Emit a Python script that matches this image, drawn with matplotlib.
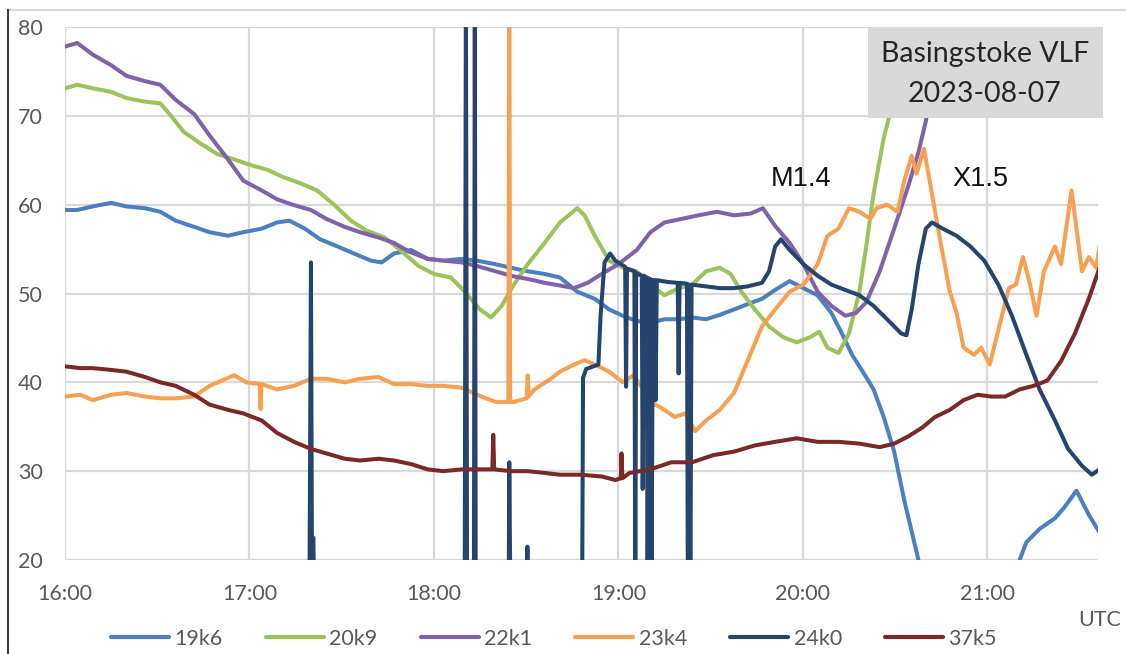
import numpy as np
import matplotlib
matplotlib.use("Agg")
import matplotlib.pyplot as plt
from matplotlib.lines import Line2D
from matplotlib.patches import Rectangle

# ---- data: minutes after 16:00 UTC, signal level ----
series_names = ["19k6", "20k9", "22k1", "23k4", "24k0", "37k5"]
series_colors = ["#4a80bf", "#9cc25a", "#7f62aa", "#f6a052", "#26456e", "#7a2828"]

t_19k6 = [0, 4, 9, 15, 20, 26, 31, 36, 42, 47, 53, 58, 64, 69, 73, 78, 83, 88.6, 94, 99.5, 103, 107,
          112.5, 118, 123, 129, 134, 140, 145, 150.5, 156, 161, 166.6, 172.3, 177, 181.4, 186, 190.4,
          195, 199.5, 204, 208.5, 213, 217.6, 222, 226.7, 231, 235.7, 240.2, 244.8, 249.3, 252.7, 256,
          259.5, 263, 266.3, 269.7, 273, 277.6, 294,
          310.5, 312.7, 317, 322, 325, 329, 333, 336.5]
v_19k6 = [59.4, 59.4, 59.8, 60.2, 59.8, 59.6, 59.2, 58.2, 57.5, 56.9, 56.5, 56.9, 57.3, 58.0, 58.2, 57.3,
          56.1, 55.3, 54.5, 53.7, 53.5, 54.5, 54.9, 53.9, 53.7, 53.9, 53.7, 53.3, 52.9, 52.5, 52.2, 51.8,
          50.2, 49.4, 48.2, 47.5, 46.9, 46.7, 47.1, 47.1, 47.3, 47.1, 47.6, 48.2, 48.8, 49.4, 50.4, 51.4,
          50.6, 49.8, 47.8, 45.5, 43.1, 41.2, 39.2, 36.1, 32.2, 26.7, 20.0, np.nan,
          20.0, 22.0, 23.5, 24.7, 25.9, 27.8, 25.1, 23.1]

t_20k9 = [0, 4, 9, 15, 20, 26, 31, 34, 38.6, 44, 49.5, 55, 60, 66, 71, 76.6, 82, 87.5, 93, 98, 104, 109,
          115, 120, 125.5, 129, 132, 135, 138.6, 142, 146, 150.5, 156, 161, 166.6, 169, 172.3, 177,
          181.4, 186, 190.4, 195, 199.5, 204, 208.5, 213, 216.5, 220, 224.4, 229, 233.5, 238, 242.5,
          245.3, 248, 251.6, 255, 258.4, 260.6, 263, 266.3, 268.6, 272]
v_20k9 = [73.1, 73.5, 73.1, 72.7, 72.0, 71.6, 71.4, 70.2, 68.2, 66.9, 65.7, 65.1, 64.5, 63.9, 63.1, 62.4,
          61.6, 60.0, 58.2, 57.1, 56.3, 54.9, 53.1, 52.2, 51.8, 50.6, 49.4, 48.2, 47.3, 48.6, 51.0, 53.3,
          55.7, 58.0, 59.6, 58.8, 56.5, 53.7, 52.9, 52.5, 51.0, 49.8, 50.6, 51.0, 52.5, 52.9, 52.2, 50.2,
          48.2, 46.3, 45.1, 44.5, 45.1, 45.7, 43.9, 43.3, 45.5, 50.2, 55.3, 61.2, 67.5, 70.6, 82.0]

t_22k1 = [0, 4, 9, 15, 20, 26, 31, 36, 42, 47, 53, 58, 64, 69, 74, 80, 85, 91, 96, 102, 107, 112, 118,
          123, 129, 134, 140, 145, 151, 156, 161, 165.5, 170, 174.6, 180, 186, 190.4, 195, 200.6, 206,
          212, 217.6, 223, 227, 231, 235.7, 240.2, 244.8, 249.3, 253.8, 257.2, 260.6, 265, 269.7, 274.2,
          277.6, 280, 283, 286]
v_22k1 = [77.8, 78.2, 76.9, 75.7, 74.5, 73.9, 73.5, 71.8, 70.2, 67.8, 65.1, 62.7, 61.6, 60.6, 60.0, 59.4,
          58.4, 57.5, 56.9, 56.3, 55.7, 54.7, 53.9, 53.7, 53.5, 53.1, 52.5, 52.0, 51.6, 51.2, 50.9, 50.6,
          51.2, 52.2, 53.3, 54.9, 56.9, 58.0, 58.4, 58.8, 59.2, 58.8, 59.0, 59.6, 57.6, 55.7, 53.3, 50.2,
          48.6, 47.5, 47.8, 49.0, 52.5, 57.3, 62.0, 65.9, 69.4, 75.0, 82.0]

t_23k4 = [0, 5, 9, 15, 20, 26, 31, 36, 42, 47, 55, 59, 63.3, 63.6, 63.9, 69, 74.5, 80, 85, 91, 96, 102,
          107, 112.5, 118, 123, 129, 134, 140, 144.2, 144.5, 144.8, 146, 150.2, 150.5, 150.8, 152.7, 158,
          161, 165.5, 169, 172.3, 177, 181.4, 185, 188, 191.5, 195, 198.3, 201.7, 205, 208.5, 213, 217.6,
          222, 226.7, 231, 235.7, 240.2, 244.8, 248, 251.6, 255, 258.4, 262, 264, 267.4, 270.8, 273,
          275.4, 277, 279.4, 282, 284.4, 287.8, 290, 292.3, 295.7, 298, 300.8, 303.6, 307, 309.3, 311.6,
          313.9, 316, 318.4, 322, 324, 327.4, 330.8, 333, 335.4, 336.5]
v_23k4 = [38.4, 38.6, 38.0, 38.6, 38.8, 38.4, 38.2, 38.2, 38.4, 39.6, 40.8, 40.0, 39.8, 37.0, 39.8, 39.2,
          39.6, 40.4, 40.4, 40.0, 40.4, 40.6, 39.8, 39.8, 39.6, 39.6, 39.4, 38.6, 37.8, 37.8, 85.0, 37.8,
          37.8, 38.2, 40.8, 38.4, 39.2, 40.4, 41.2, 42.0, 42.5, 42.0, 41.2, 40.0, 40.8, 39.2, 37.6, 36.9,
          36.1, 36.5, 34.5, 35.7, 36.9, 38.8, 42.4, 46.3, 48.2, 50.2, 51.0, 53.3, 56.5, 57.3, 59.6, 59.2,
          58.4, 59.6, 60.0, 59.2, 62.7, 65.5, 63.5, 66.3, 61.2, 56.5, 50.2, 47.8, 43.9, 43.1, 43.9, 42.0,
          45.9, 50.6, 51.0, 54.1, 51.0, 47.5, 52.5, 55.3, 53.3, 61.6, 52.5, 54.1, 52.9, 55.3]

# values of 15 / 85 are readings that fall off the 20-80 scale
t_24k0 = [0, 79.5, 80, 80.3, 80.8, 81, 130.0, 130.4, 130.8, 133.0, 133.3, 133.6, 144.3, 144.5, 144.9,
          150.2, 150.4, 150.7, 168.2, 168.5, 169.5, 173.5, 174.2, 175.5, 177.3, 179, 182.2, 182.5, 182.8,
          185.2, 185.5, 185.8, 187.6, 187.9, 188.3, 189.2, 189.5, 189.9, 190.5, 190.8, 191.2, 191.8,
          192.1, 192.5, 196, 199.3, 199.6, 199.9, 202.3, 202.6, 203.0, 203.4, 203.8, 208.5, 213, 217.6,
          222, 226.7, 229, 231, 232.9, 235.7, 240.2, 244.8, 249.3, 253.8, 258.4, 263, 267.4, 272, 273.7,
          275.4, 277.6, 280, 282, 285.5, 290, 294.5, 299, 303.6, 308, 312.7, 317, 322, 326.3, 330.8, 334,
          336.5]
v_24k0 = [15, 15, 53.5, 22.5, 22.5, 15, 15, 85, 15, 15, 85, 15, 15, 31, 15,
          15, 21.5, 15, 15, 40.5, 41.5, 42.0, 47.5, 53.5, 54.5, 53.7, 53.0, 39.5, 52.8,
          52.5, 15, 52.3, 52.0, 28.0, 52.0, 51.8, 15, 51.7, 51.6, 15, 51.5, 51.5,
          38.0, 51.5, 51.3, 51.2, 41.0, 51.2, 51.1, 15, 51.0, 15, 51.0, 50.8, 50.6, 50.6,
          50.8, 51.2, 52.5, 55.3, 56.1, 54.9, 53.3, 52.0, 51.0, 50.4, 49.8, 48.6, 47.1, 45.5, 45.3,
          48.2, 53.3, 57.3, 58.0, 57.3, 56.5, 55.3, 53.7, 51.0, 47.5, 43.1, 39.2, 35.7, 32.5, 30.6, 29.6,
          30.2]

t_37k5 = [0, 5, 9, 15, 20, 26, 31, 36, 42, 47, 53, 58, 64, 69, 74.5, 80, 85, 91, 96, 102, 107, 112.5,
          118, 123, 129, 134, 139.0, 139.3, 139.6, 145, 150.5, 156, 161, 167.8, 174.6, 179, 180.8, 181.0,
          181.3, 183.6, 190.4, 197.2, 204, 210.8, 217.6, 224.4, 231, 238, 244.8, 251.6, 258.4, 265,
          269.7, 274.2, 278.8, 283, 287.8, 292.3, 296.8, 301.3, 305.8, 310.5, 315, 319.5, 324, 328.5,
          333, 336.5]
v_37k5 = [41.8, 41.6, 41.6, 41.4, 41.2, 40.6, 40.0, 39.6, 38.6, 37.5, 36.9, 36.5, 35.7, 34.3, 33.3, 32.5,
          32.0, 31.4, 31.2, 31.4, 31.2, 30.8, 30.2, 30.0, 30.2, 30.2, 30.2, 34.1, 30.2, 30.0, 30.0, 29.8,
          29.6, 29.6, 29.4, 29.0, 29.2, 32.0, 29.2, 29.8, 30.2, 31.0, 31.0, 31.8, 32.2, 32.9, 33.3, 33.7,
          33.3, 33.3, 33.1, 32.7, 33.1, 33.9, 34.9, 36.1, 36.9, 38.0, 38.6, 38.4, 38.4, 39.2, 39.6, 40.2,
          42.4, 45.5, 49.4, 52.9]

x_ticks = [16, 17, 18, 19, 20, 21]
x_tick_labels = ["16:00", "17:00", "18:00", "19:00", "20:00", "21:00"]
y_ticks = [20, 30, 40, 50, 60, 70, 80]
flare_labels = ["M1.4", "X1.5"]
title_lines = ["Basingstoke VLF", "2023-08-07"]

series_t = [t_19k6, t_20k9, t_22k1, t_23k4, t_24k0, t_37k5]
series_v = [v_19k6, v_20k9, v_22k1, v_23k4, v_24k0, v_37k5]

# ---- figure ----
W, H = 1126, 654
fig = plt.figure(figsize=(W / 100, H / 100), dpi=100)
ax = fig.add_axes([65 / W, 1 - 560 / H, (1098 - 65) / W, (560 - 27) / H])

tick_font = "Lato"
grid_c = "#d9d9d9"
text_c = "#595959"

for t, v, c, n in zip(series_t, series_v, series_colors, series_names):
    hours = 16 + np.asarray(t, dtype=float) / 60.0
    ax.plot(hours, v, color=c, lw=2.9, label=n, solid_joinstyle="round", solid_capstyle="round")

ax.set_xlim(16, 16 + 336 / 60)
ax.set_ylim(20, 80)
ax.set_xticks(x_ticks)
ax.set_xticklabels(x_tick_labels)
ax.set_yticks(y_ticks)
ax.grid(True, color=grid_c, lw=1.6)
ax.set_axisbelow(True)
for s in ax.spines.values():
    s.set_visible(False)
ax.axhline(20, color=grid_c, lw=1.6, zorder=0.5)
ax.axvline(16, color=grid_c, lw=1.6, zorder=0.5)
ax.tick_params(length=0, labelsize=15.5, colors=text_c)
ax.tick_params(axis="y", pad=16)
ax.tick_params(axis="x", pad=17)
for lab in ax.get_xticklabels() + ax.get_yticklabels():
    lab.set_fontfamily(tick_font)

# title box
fig.add_artist(Rectangle((868 / W, 1 - 118 / H), (1103 - 868) / W, (118 - 27) / H,
                         transform=fig.transFigure, facecolor="#d9d9d9", edgecolor="none", zorder=5))
fig.text(985 / W, 1 - 54 / H, title_lines[0], ha="center", va="center", fontsize=20.5,
         family=tick_font, color="#262626", zorder=6)
fig.text(985 / W, 1 - 94 / H, title_lines[1], ha="center", va="center", fontsize=20.5,
         family=tick_font, color="#262626", zorder=6)

# flare annotations
fig.text(801 / W, 1 - 179 / H, flare_labels[0], ha="center", va="center", fontsize=19.5,
         family="Liberation Sans", color="#111111")
fig.text(980 / W, 1 - 179 / H, flare_labels[1], ha="center", va="center", fontsize=19.5,
         family="Liberation Sans", color="#111111")

# UTC label
fig.text(1100 / W, 1 - 620 / H, "UTC", ha="center", va="center", fontsize=15.5,
         family=tick_font, color=text_c)

# legend
leg = fig.legend(loc="center", bbox_to_anchor=(554 / W, 1 - 639 / H), ncol=6, frameon=False,
                 prop={"family": tick_font, "size": 15.5}, handlelength=2.7, handletextpad=0.25,
                 columnspacing=2.0, borderaxespad=0)
for txt in leg.get_texts():
    txt.set_color(text_c)
for h in leg.legend_handles:
    h.set_linewidth(3)

# outer chart-area border fragments
fig.add_artist(Line2D([8 / W, 1], [1 - 10 / H, 1 - 10 / H], transform=fig.transFigure,
                      color="#d0d0d0", lw=1.2))
fig.add_artist(Line2D([8 / W, 8 / W], [0, 1 - 10 / H], transform=fig.transFigure,
                      color="#404040", lw=1.5))

fig.savefig("out.png", dpi=100)
